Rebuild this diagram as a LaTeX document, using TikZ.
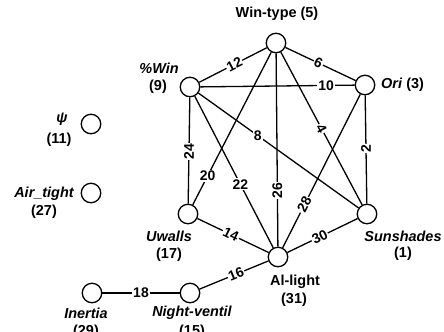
\documentclass[tikz,border=0pt]{standalone}
\usepackage{fontspec}
\setmainfont{Liberation Sans}
\begin{document}
\begin{tikzpicture}[x=1bp,y=-1bp,
  v/.style={circle,draw,line width=1.3bp,minimum size=19.5bp,inner sep=0pt,fill=white},
  e/.style={line width=1.3bp},
  num/.style={fill=white,inner sep=1bp,font=\fontsize{14}{15}\selectfont\bfseries},
  lab/.style={font=\fontsize{14.5}{16}\selectfont\bfseries,inner sep=0pt}]
\useasboundingbox[fill=white] (0,0) rectangle (444,331);
% vertices
\node[v] (wt) at (276,43) {};
\node[v] (pw) at (190,87) {};
\node[v] (ori) at (365,85) {};
\node[v] (psi) at (91,124) {};
\node[v] (air) at (91,193) {};
\node[v] (uw) at (188,214) {};
\node[v] (sun) at (367,214) {};
\node[v] (al) at (278,257) {};
\node[v] (in) at (92,293) {};
\node[v] (nv) at (190,293) {};
% edges
\draw[e] (pw) -- node[num,sloped,pos=0.52]{12} (wt);
\draw[e] (wt) -- node[num,sloped,pos=0.47]{6} (ori);
\draw[e] (pw) -- node[num,pos=0.816]{10} (ori);
\draw[e] (wt) -- node[num,pos=0.81]{20} (uw);
\draw[e] (wt) -- node[num,rotate=90,pos=0.71]{26} (al);
\draw[e] (wt) -- node[num,sloped,pos=0.5]{4} (sun);
\draw[e] (pw) -- node[num,rotate=90,pos=0.51]{24} (uw);
\draw[e] (pw) -- node[num,pos=0.58]{22} (al);
\draw[e] (pw) -- node[num,pos=0.37]{8} (sun);
\draw[e] (ori) -- node[num,sloped,pos=0.72]{28} (al);
\draw[e] (ori) -- node[num,rotate=90,pos=0.49]{2} (sun);
\draw[e] (uw) -- node[num,sloped,pos=0.47]{14} (al);
\draw[e] (al) -- node[num,sloped,pos=0.46]{30} (sun);
\draw[e] (nv) -- node[num,sloped,pos=0.53]{16} (al);
\draw[e] (in) -- node[num]{18} (nv);
% labels
\node[lab] (wtl) at (277,14) {Win-type (5)};
\node[lab] (pwl) at (159,68) {\itshape\%Win};
\node[lab] (pwn) at (158,87) {(9)};
\node[lab,anchor=west] (oril) at (381,85) {\textit{Ori} (3)};
\node[lab] (psil) at (62,119) {\itshape ψ};
\node[lab] (psin) at (59,140) {(11)};
\node[lab] (airl) at (44,194) {\itshape Air\_tight};
\node[lab] (airn) at (44,212) {(27)};
\node[lab] (uwl) at (169,236) {\itshape Uwalls};
\node[lab] (uwn) at (169,255) {(17)};
\node[lab] (inl) at (86,313) {\itshape Inertia};
\node[lab] (inn) at (86,332) {(29)};
\node[lab] (nvl) at (192,313) {\itshape Night-ventil};
\node[lab] (nvn) at (192,332) {(15)};
\node[lab] (sunl) at (403,236) {\itshape Sunshades};
\node[lab] (sunn) at (403,254) {(1)};
\node[lab] (all) at (295,282) {Al-light};
\node[lab] (aln) at (294,300) {(31)};
\end{tikzpicture}
\end{document}
